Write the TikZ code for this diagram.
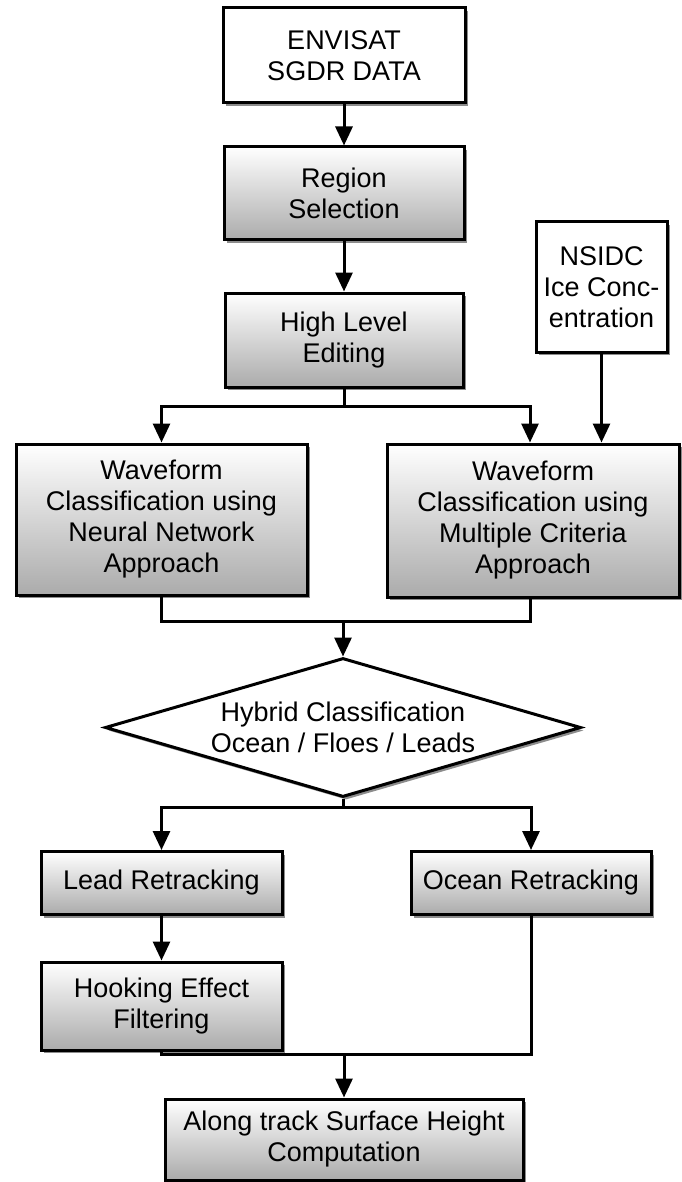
\documentclass[tikz,border=0pt]{standalone}
\usepackage{fontspec}
\setmainfont{Liberation Sans}
\usetikzlibrary{arrows.meta,shapes.geometric,shadows}
\begin{document}
\begin{tikzpicture}
  [x=1pt,y=-1pt,
   every node/.style={font=\fontsize{27}{31}\selectfont,align=center,inner sep=0pt},
   box/.style={rectangle,draw,line width=3pt,fill=white,
     drop shadow={shadow xshift=3pt,shadow yshift=-3pt,fill=black,opacity=.45}},
   shadebox/.style={box,top color=white,bottom color=black!33},
   decision/.style={diamond,draw,line width=3pt,fill=white,aspect=3.42,
     drop shadow={shadow xshift=3pt,shadow yshift=-3pt,fill=black,opacity=.45}},
   arr/.style={line width=3pt,-{Triangle[length=19pt,width=17pt]}},
   line/.style={line width=3pt}]
  \useasboundingbox (0,0) rectangle (681,1182);
  \node[box,minimum width=242,minimum height=95] (env) at (344,55.5) {ENVISAT\\SGDR DATA};
  \node[shadebox,minimum width=240,minimum height=93] (reg) at (344,193.5) {Region\\Selection};
  \node[shadebox,minimum width=238,minimum height=94] (edit) at (344,340) {High Level\\Editing};
  \node[box,minimum width=131,minimum height=130] (nsidc) at (601.5,287) {NSIDC\\Ice Conc-\\entration};
  \node[shadebox,minimum width=291,minimum height=151] (nn) at (161.5,519.5) {Waveform\\Classification using\\Neural Network\\Approach};
  \node[shadebox,minimum width=292,minimum height=153] (mc) at (533,520.5) {Waveform\\Classification using\\Multiple Criteria\\Approach};
  \node[decision,minimum width=476,minimum height=139] (hyb) at (343,727.5) {Hybrid Classification\\Ocean / Floes / Leads};
  \node[shadebox,minimum width=241,minimum height=63] (lead) at (161.5,883) {Lead Retracking};
  \node[shadebox,minimum width=240,minimum height=63] (ocean) at (531,883) {Ocean Retracking};
  \node[shadebox,minimum width=241,minimum height=88] (hook) at (161.5,1006) {Hooking Effect\\Filtering};
  \node[shadebox,minimum width=358,minimum height=81] (height) at (344,1139.5) {Along track Surface Height\\Computation};

  \coordinate (j1) at (344,406);
  \coordinate (j2) at (343,621);
  \coordinate (j3) at (343,807);
  \coordinate (j4) at (344,1054);

  \foreach \from/\to in {env/reg,reg/edit,lead/hook}
    \draw[arr] (\from) -- (\to);
  \draw[line] (edit.south) -- (j1);
  \draw[arr] (j1) -| (nn.north);
  \draw[arr] (j1) -| ([xshift=-3pt]mc.north);
  \draw[arr] (nsidc.south) -- (nsidc.south |- mc.north);
  \draw[line] (nn.south) |- (j2);
  \draw[line] ([xshift=-3pt]mc.south) |- (j2);
  \draw[arr] (j2) -- (hyb.north);
  \draw[line] (hyb.south) -- (j3);
  \draw[arr] (j3) -| (lead.north);
  \draw[arr] (j3) -| (ocean.north);
  \draw[line] (hook.south) |- (j4);
  \draw[line] (ocean.south) |- (j4);
  \draw[arr] (j4) -- (height.north);
\end{tikzpicture}
\end{document}
